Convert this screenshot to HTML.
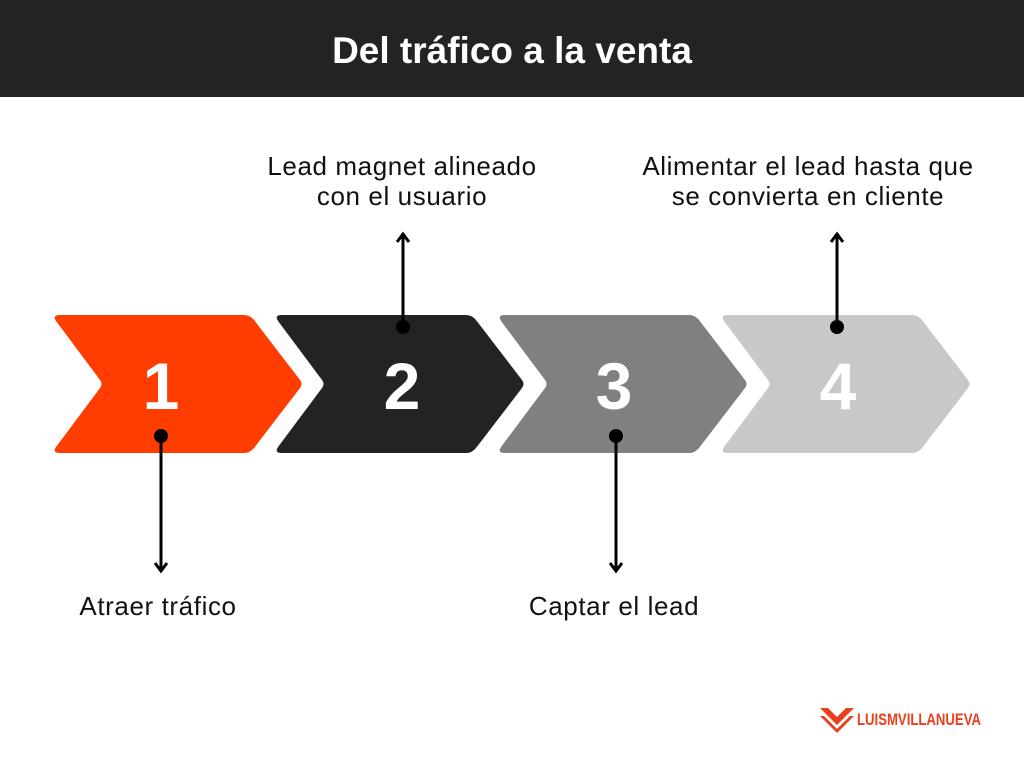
<!DOCTYPE html>
<html><head><meta charset="utf-8"><style>
body{margin:0;width:1024px;height:768px;background:#fff;overflow:hidden;font-family:"Liberation Sans",sans-serif;position:relative}
.hd{position:absolute;left:0;top:0;width:1024px;height:97px;background:#232323;color:#fff;font-weight:bold;font-size:37px;text-align:center;line-height:102px}
.t{position:absolute;font-size:26px;letter-spacing:0.6px;color:#111;text-align:center;line-height:30px;width:400px}
</style></head><body>
<div class="hd">Del tráfico a la venta</div>
<svg width="1024" height="768" style="position:absolute;left:0;top:0">
<defs><g id="c"><path d="M60,315 L244,315 Q250,315 254,320 L300,380 Q303,384 300,388 L254,448 Q250,453 244,453 L60,453 Q52,453 56,447 L100,388 Q103,384 100,380 L56,321 Q52,315 60,315Z"/></g></defs>
<use href="#c" fill="#ff3d00"/>
<use href="#c" fill="#232323" x="222"/>
<use href="#c" fill="#808080" x="445"/>
<use href="#c" fill="#c8c8c8" x="668"/>
<g fill="#fff" font-weight="bold" font-size="66" text-anchor="middle" font-family="Liberation Sans">
<text x="161" y="409">1</text><text x="402" y="409">2</text><text x="614" y="409">3</text><text x="838" y="409">4</text></g>
<g stroke="#000" stroke-width="3" fill="none">
<line x1="161" y1="436" x2="161" y2="570"/><polyline points="155,563 161,571 167,563"/>
<line x1="616" y1="436" x2="616" y2="570"/><polyline points="610,563 616,571 622,563"/>
<line x1="403" y1="327" x2="403" y2="235"/><polyline points="397,242 403,234 409,242"/>
<line x1="837" y1="327" x2="837" y2="235"/><polyline points="831,242 837,234 843,242"/>
</g>
<g fill="#000"><circle cx="161" cy="436" r="7"/><circle cx="616" cy="436" r="7"/><circle cx="403" cy="327" r="7"/><circle cx="837" cy="327" r="7"/></g>
<g fill="#e8401c"><path d="M820,708 l8,0 l9,9 l9,-9 l8,0 l-17,17z"/><path d="M820,716 l4,0 l13,13 l13,-13 l4,0 l-17,17z"/></g>
<text x="857" y="725" fill="#e8401c" font-weight="bold" font-size="17" font-family="Liberation Sans" textLength="124" lengthAdjust="spacingAndGlyphs">LUISMVILLANUEVA</text>
</svg>
<div class="t" style="left:-42px;top:591px">Atraer tráfico</div>
<div class="t" style="left:414px;top:591px">Captar el lead</div>
<div class="t" style="left:202px;top:151px">Lead magnet alineado<br>con el usuario</div>
<div class="t" style="left:608px;top:151px">Alimentar el lead hasta que<br>se convierta en cliente</div>
</body></html>
